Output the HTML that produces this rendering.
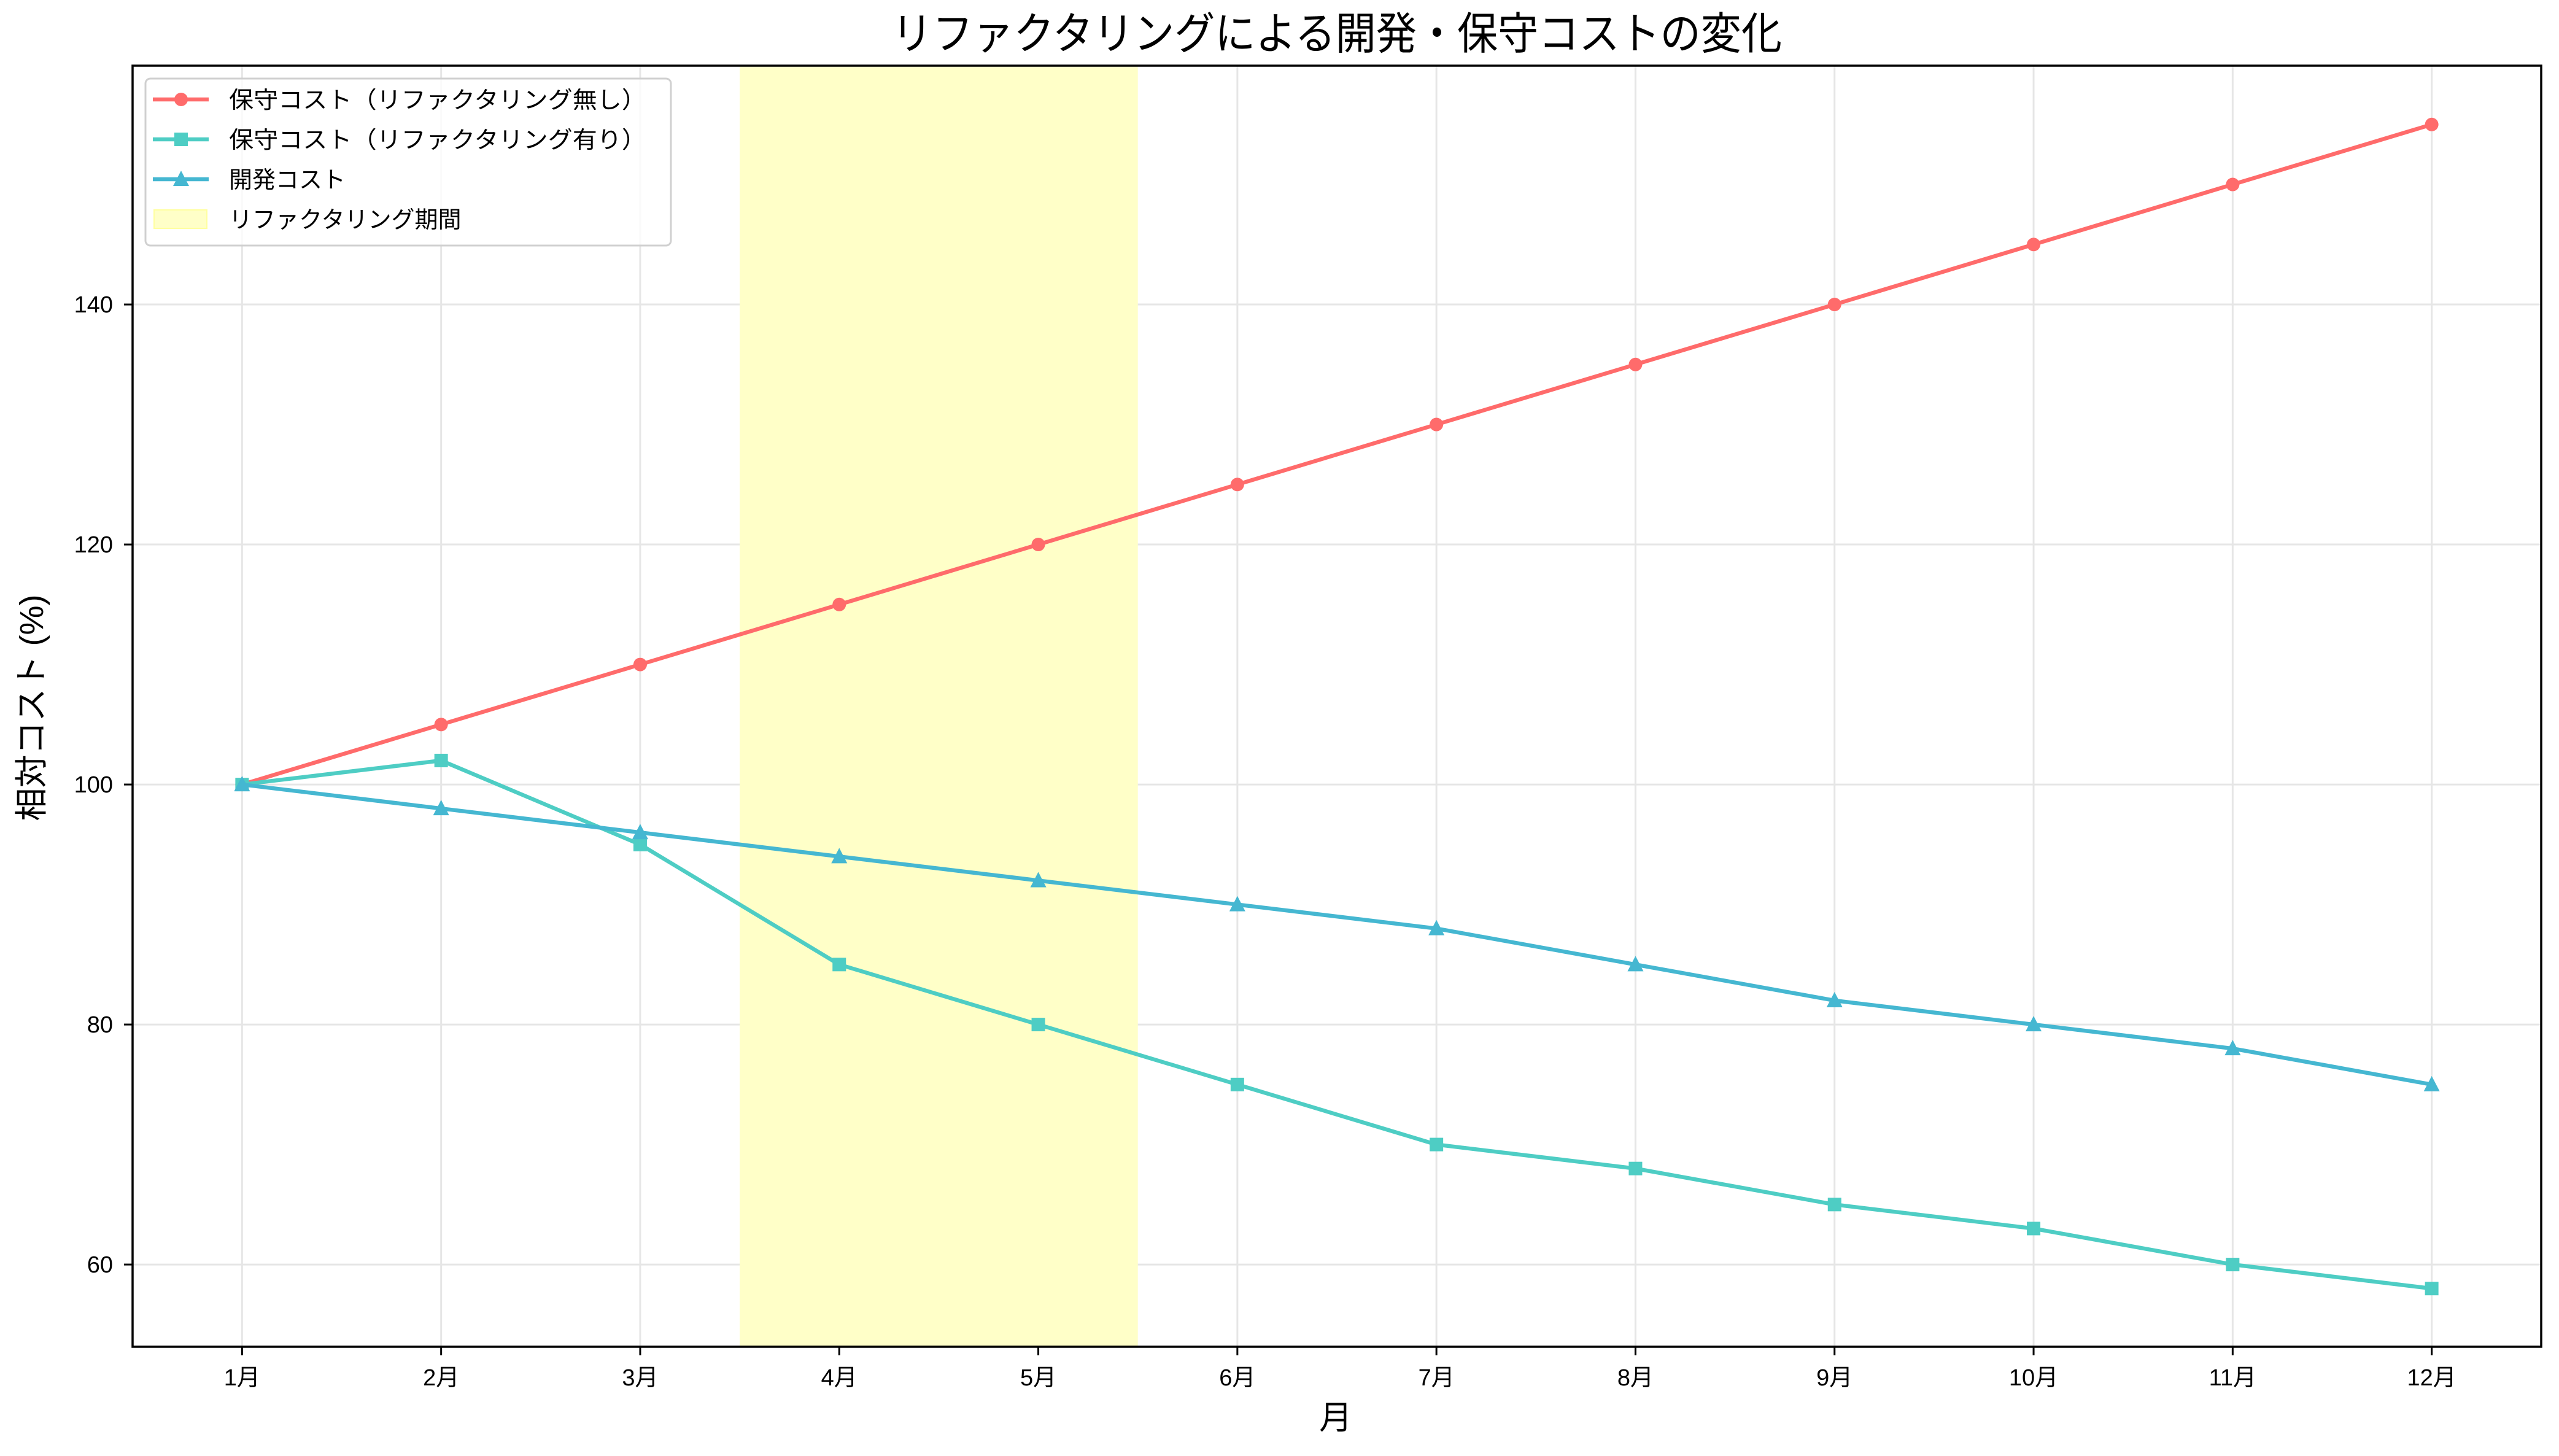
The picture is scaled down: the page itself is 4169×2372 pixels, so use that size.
<!DOCTYPE html>
<html><head><meta charset="utf-8"><style>
html,body{margin:0;padding:0;background:#fff;}
svg{display:block;}
text{font-family:"Liberation Sans","Noto Sans CJK JP",sans-serif;fill:#000;}
</style></head><body>
<svg id="chart" width="4169" height="2372" viewBox="0 0 4169 2372" xmlns="http://www.w3.org/2000/svg">
<rect width="4169" height="2372" fill="#fff"/>
<g id="grid"></g>
<g id="span"></g>
<g id="series"></g>
<g id="axes"></g>
<text x="2178" y="80" font-size="72" text-anchor="middle" textLength="1450" lengthAdjust="spacingAndGlyphs">リファクタリングによる開発・保守コストの変化</text>
<text x="2176" y="2328" font-size="54" text-anchor="middle">月</text>
<text transform="translate(70,1153) rotate(-90)" font-size="54" text-anchor="middle">相対コスト (%)</text>
<g id="legend"></g>
</svg>
<script>
const categories = ["1月","2月","3月","4月","5月","6月","7月","8月","9月","10月","11月","12月"];
const noRefactor = [100,105,110,115,120,125,130,135,140,145,150,155];
const withRefactor = [100,102,95,85,80,75,70,68,65,63,60,58];
const devCost = [100,98,96,94,92,90,88,85,82,80,78,75];
const yTicks = [60,80,100,120,140];
const spanRange = [2.5,4.5];
const seriesNames = ["保守コスト（リファクタリング無し）","保守コスト（リファクタリング有り）","開発コスト","リファクタリング期間"];

const L=216,R=4140,T=107,B=2194;
const xMin=-0.55,xMax=11.55,yMin=53.15,yMax=159.9;
const NS="http://www.w3.org/2000/svg";
function sx(i){return L+(i-xMin)/(xMax-xMin)*(R-L);}
function sy(v){return B-(v-yMin)/(yMax-yMin)*(B-T);}
function mk(tag,attrs,parent){const e=document.createElementNS(NS,tag);for(const k in attrs)e.setAttribute(k,attrs[k]);parent.appendChild(e);return e;}
const grid=document.getElementById('grid'),span=document.getElementById('span'),series=document.getElementById('series'),axes=document.getElementById('axes'),legend=document.getElementById('legend');

categories.forEach((c,i)=>{
  const g=mk('line',{x1:sx(i),x2:sx(i),y1:T,y2:B,stroke:'#e6e6e6','stroke-width':3},grid);
  
  
  const t=mk('line',{x1:sx(i),x2:sx(i),y1:B,y2:B+14,stroke:'#000','stroke-width':3},axes);
  
  
  const tx=mk('text',{x:sx(i),y:2257,'font-size':38,'text-anchor':'middle'},axes);
  tx.textContent=c;
  
  
});
yTicks.forEach(v=>{
  const g=mk('line',{x1:L,x2:R,y1:sy(v),y2:sy(v),stroke:'#e6e6e6','stroke-width':3},grid);
  
  
  const t=mk('line',{x1:L-14,x2:L,y1:sy(v),y2:sy(v),stroke:'#000','stroke-width':3},axes);
  
  
  const tx=mk('text',{x:184,y:sy(v)+13,'font-size':38,'text-anchor':'end'},axes);
  tx.textContent=v;
  
  
});
const sp=mk('rect',{x:sx(spanRange[0]),y:T,width:sx(spanRange[1])-sx(spanRange[0]),height:B-T,fill:'#ffffc8'},span);



function drawSeries(data,color,shape,name){
  const g=mk('g',{},series);
  
  
  const pl=mk('polyline',{points:data.map((v,i)=>sx(i)+','+sy(v)).join(' '),fill:'none',stroke:color,'stroke-width':6.5,'stroke-linejoin':'round'},g);
  
  
  data.forEach((v,i)=>{
    const m=drawMarker(sx(i),sy(v),shape,color,g);
    
    
  });
}
function drawMarker(x,y,shape,color,g){
  if(shape==='o')return mk('circle',{cx:x,cy:y,r:11,fill:color},g);
  if(shape==='s')return mk('rect',{x:x-11,y:y-11,width:22,height:22,fill:color},g);
  return mk('polygon',{points:`${x},${y-14} ${x+13},${y+11} ${x-13},${y+11}`,fill:color},g);
}
drawSeries(noRefactor,'#FF6B6B','o','series-no-refactor');
drawSeries(withRefactor,'#4ECDC4','s','series-with-refactor');
drawSeries(devCost,'#45B7D1','^','series-dev-cost');

const frame=mk('rect',{x:L,y:T,width:R-L,height:B-T,fill:'none',stroke:'#000','stroke-width':3.5},axes);



const lb=mk('rect',{x:237,y:128,width:856,height:272,rx:8,fill:'#fff','fill-opacity':0.8,stroke:'#d0d0d0','stroke-width':3},legend);


const colors=['#FF6B6B','#4ECDC4','#45B7D1'];
const shapes=['o','s','^'];
const rowY=[162,227,292,357];
const widths=[680,680,null,null];
seriesNames.forEach((n,k)=>{
  const g=mk('g',{},legend);
  
  
  if(k<3){
    mk('line',{x1:249,x2:340,y1:rowY[k],y2:rowY[k],stroke:colors[k],'stroke-width':6.5},g);
    drawMarker(295,rowY[k],shapes[k],colors[k],g);
  } else {
    mk('rect',{x:251,y:rowY[k]-15,width:86,height:30,fill:'#ffffc8',stroke:'#ffffa0','stroke-width':2},g);
  }
  const t=mk('text',{x:373,y:rowY[k]+14,'font-size':38},g);
  if(widths[k]){t.setAttribute('textLength',widths[k]);t.setAttribute('lengthAdjust','spacingAndGlyphs');}
  t.textContent=n;
});
</script>
</body></html>
